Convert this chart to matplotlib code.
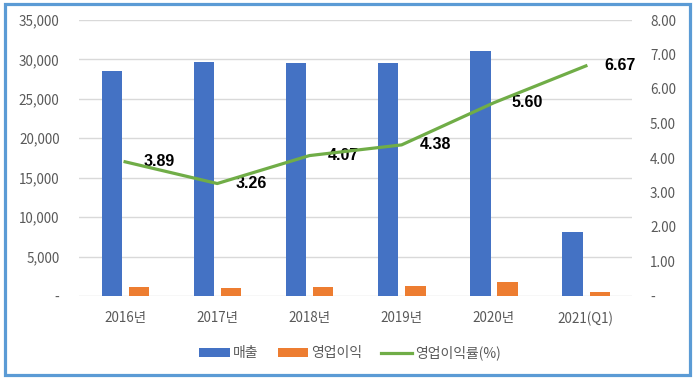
import matplotlib
matplotlib.use("Agg")
import matplotlib.pyplot as plt
from matplotlib.patches import Rectangle, Patch
from matplotlib.lines import Line2D
from matplotlib.ticker import FuncFormatter, MultipleLocator
import numpy as np

plt.rcParams['font.family'] = ['Noto Sans CJK KR', 'DejaVu Sans']

categories = ['2016년', '2017년', '2018년', '2019년', '2020년', '2021(Q1)']
sales = [28530, 29670, 29550, 29590, 31070, 8115]
op_profit = [1110, 967, 1203, 1296, 1740, 541]
op_margin = [3.89, 3.26, 4.07, 4.38, 5.60, 6.67]

BLUE = '#4472C4'
ORANGE = '#ED7D31'
GREEN = '#70AD47'
TXT = '#595959'
GRID = '#D9D9D9'

fig = plt.figure(figsize=(6.95, 3.8), dpi=100)
ax = fig.add_axes([79/695, 1-296/380, (632-79)/695, (296-20)/380])
ax2 = ax.twinx()

x = np.arange(len(categories))
w = 0.22
ax.bar(x - 0.145, sales, width=w, color=BLUE, zorder=3)
ax.bar(x + 0.15, op_profit, width=w, color=ORANGE, zorder=3)

ax.set_xlim(-0.5, len(categories) - 0.5)
ax.set_ylim(0, 35000)
ax.yaxis.set_major_locator(MultipleLocator(5000))
ax.yaxis.set_major_formatter(FuncFormatter(lambda v, p: '-' if v == 0 else f'{int(v):,}'))
ax.grid(axis='y', color=GRID, linewidth=1, zorder=0)
ax.set_axisbelow(True)
for s in ax.spines.values():
    s.set_visible(False)
for s in ax2.spines.values():
    s.set_visible(False)
ax.tick_params(axis='both', length=0, colors=TXT, labelsize=9.7)
ax.tick_params(axis='y', pad=14)
ax.tick_params(axis='x', pad=11)
ax.set_xticks(x)
ax.set_xticklabels(categories)

ax2.plot(x, op_margin, color=GREEN, linewidth=2.3, zorder=4, solid_joinstyle='round')
ax2.set_ylim(0, 8)
ax2.yaxis.set_major_locator(MultipleLocator(1))
ax2.yaxis.set_major_formatter(FuncFormatter(lambda v, p: '-' if v == 0 else f'{v:.2f}'))
ax2.tick_params(axis='y', length=0, colors=TXT, labelsize=9.7, pad=13)
for xi, v in zip(x, op_margin):
    ax2.annotate(f'{v:.2f}', (xi, v), xytext=(13, 0), textcoords='offset points',
                 ha='left', va='center', fontsize=11.5, fontweight='bold', color='black',
                 family=['Liberation Sans', 'DejaVu Sans'])

handles = [Patch(facecolor=BLUE, label='매출'),
           Patch(facecolor=ORANGE, label='영업이익'),
           Line2D([0], [0], color=GREEN, linewidth=2.3, label='영업이익률(%)')]
leg = fig.legend(handles=handles, loc='center', bbox_to_anchor=(350/695, 1-353/380), ncol=3,
                 frameon=False, fontsize=10, handlelength=2.2, handleheight=0.65,
                 handletextpad=0.2, columnspacing=1.4)
for t in leg.get_texts():
    t.set_color(TXT)

fig.patches.append(Rectangle((4.5/695, 1-374.5/380), (689.5-4.5)/695, (374.5-4)/380,
                             transform=fig.transFigure, fill=False, edgecolor='#5B9BD5',
                             linewidth=2.3, zorder=10))

fig.savefig('out.png', dpi=100, facecolor='white')
